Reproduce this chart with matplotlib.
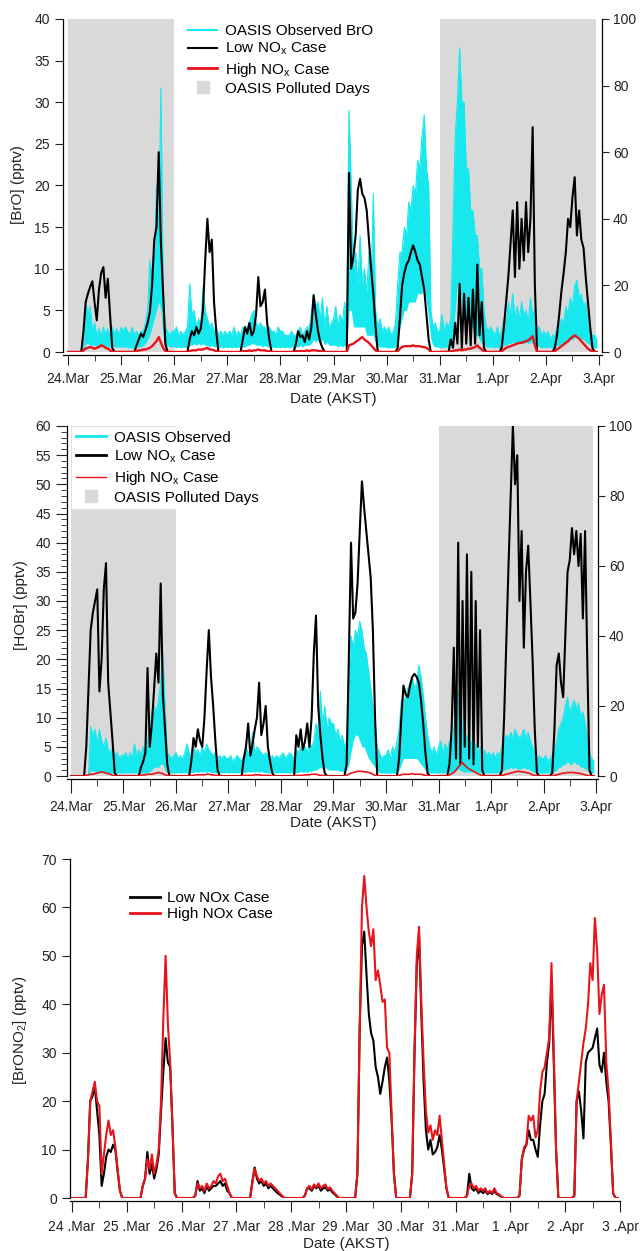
import numpy as np
import matplotlib
matplotlib.use("Agg")
import matplotlib.pyplot as plt
from matplotlib.lines import Line2D
from matplotlib.ticker import MultipleLocator

plt.rcParams["font.family"] = ["Liberation Sans", "DejaVu Sans"]
plt.rcParams["mathtext.default"] = "regular"
plt.rcParams["axes.linewidth"] = 0.9

CYAN = "#16e8ee"
GRAY = "#d9d9d9"
RED = "#e8141b"
TXT = "#222222"

# --------------------------------------------
# Data (hourly values, one row per day, 24.Mar .. 2.Apr)
# --------------------------------------------
day_labels = ["24.Mar", "25.Mar", "26.Mar", "27.Mar", "28.Mar", "29.Mar",
              "30.Mar", "31.Mar", "1.Apr", "2.Apr", "3.Apr"]
day_labels_sp = ["24 .Mar", "25 .Mar", "26 .Mar", "27 .Mar", "28 .Mar", "29 .Mar",
                 "30 .Mar", "31 .Mar", "1 .Apr", "2 .Apr", "3 .Apr"]
polluted_days = [(0.0, 2.0), (7.0, 9.94)]

# [BrO] panel
bro_low = [
    [0,0,0,0,0,0,0, 2.5,6.0,7.0,7.8,8.5,6.0,3.8,7.5,9.5,10.2,6.5,8.8,4.5,0.5, 0,0,0],
    [0,0,0,0,0,0,0, 0.8,1.5,2.2,1.8,2.6,3.5,4.8,8.0,13.5,15.0,24.0,13.0,7.0,1.0, 0,0,0],
    [0,0,0,0,0,0,0, 1.5,2.5,2.0,3.0,2.2,2.8,5.0,11.0,16.0,12.0,13.5,6.0,2.5,0, 0,0,0],
    [0,0,0,0,0,0,0, 1.5,3.0,2.2,3.5,2.0,2.5,4.5,9.0,5.5,6.0,7.5,3.5,1.5,0, 0,0,0],
    [0,0,0,0,0,0,0, 1.0,2.5,1.8,2.0,1.2,2.5,1.5,3.0,6.8,4.5,2.5,1.2,0.5,0, 0,0,0],
    [0,0,0,0,0,0,0, 21.5,10.0,11.5,14.0,19.5,20.8,19.0,18.5,17.0,13.5,10.0,7.0,3.0,0, 0,0,0],
    [0,0,0,0,0, 0.5,4.0,8.0,9.5,10.5,11.0,12.0,12.8,12.0,11.0,10.5,9.0,7.5,4.5,1.5,0, 0,0,0],
    [0,0,0,0,0, 1.5,0.5,3.5,1.0,8.2,0.5,7.0,1.0,6.5,0.8,7.5,1.0,10.5,2.0,6.0,0.5, 0,0,0],
    [0,0,0,0, 0.5,3.0,6.0,9.0,13.0,17.0,9.0,18.0,10.0,16.0,11.0,18.0,12.0,16.0,27.0,8.0,0, 0,0,0],
    [0,0,0,0, 0.5,2.0,4.5,7.3,9.5,12.0,16.0,15.0,18.6,21.0,14.0,17.0,13.5,12.5,9.0,6.0,3.0,0.5, 0,0],
]
bro_high = [
    [0,0,0,0,0,0,0, 0.2,0.4,0.5,0.6,0.5,0.4,0.5,0.6,0.8,0.7,0.5,0.4,0.2,0, 0,0,0],
    [0,0,0,0,0,0,0, 0.1,0.2,0.2,0.3,0.3,0.4,0.5,0.7,1.0,1.3,1.8,1.1,0.5,0.1, 0,0,0],
    [0,0,0,0,0,0,0, 0.1,0.2,0.2,0.2,0.3,0.3,0.3,0.4,0.5,0.3,0.3,0.2,0.1,0, 0,0,0],
    [0,0,0,0,0,0,0, 0.1,0.1,0.1,0.2,0.1,0.2,0.2,0.3,0.2,0.2,0.2,0.1,0.1,0, 0,0,0],
    [0,0,0,0,0,0,0, 0.1,0.1,0.1,0.1,0.1,0.2,0.1,0.2,0.2,0.2,0.1,0.1,0.1,0, 0,0,0],
    [0,0,0,0,0,0,0, 0.8,0.9,1.0,1.2,1.4,1.6,1.8,1.5,1.3,1.1,0.8,0.5,0.2,0, 0,0,0],
    [0,0,0,0,0, 0.1,0.4,0.6,0.7,0.7,0.7,0.7,0.8,0.7,0.7,0.7,0.6,0.6,0.5,0.3,0, 0,0,0],
    [0,0,0,0,0, 0.1,0.1,0.2,0.2,0.3,0.2,0.3,0.3,0.4,0.4,0.5,0.6,0.8,0.5,0.3,0.1, 0,0,0],
    [0,0,0,0, 0.1,0.3,0.5,0.6,0.7,0.8,0.9,1.0,1.1,1.1,1.2,1.3,1.4,1.6,1.9,0.8,0, 0,0,0],
    [0,0,0,0, 0.1,0.3,0.5,0.7,0.9,1.1,1.3,1.6,1.8,2.0,1.8,1.6,1.3,1.0,0.7,0.4,0.2,0.1, 0,0],
]
bro_obs_hi = [
    [0,0,0,0,0,0,0,0, 6.0,4.5,5.5,2.5,3.5,2.0,2.8,2.0,3.0,2.2,2.8,2.0,3.0,2.2,2.8,2.0],
    [3.0,2.5,3.0,2.5,2.0,3.0,2.0,2.5, 2.0,2.5,2.5,3.5,5.0,11.0,9.0,10.0, 20.0,14.0,31.7,8.0,3.0,2.5,2.0,2.5],
    [2.5,3.0,2.0,2.5,2.0,2.5,3.0,8.2, 4.5,5.0,3.0,4.0,3.0,7.8,5.0,4.0, 3.0,3.5,2.5,3.0,2.0,2.5,2.0,2.5],
    [2.0,2.5,2.0,3.0,2.0,2.5,2.0,3.0, 2.5,3.0,3.5,4.5,5.0,3.5,3.0,3.5, 3.0,3.0,2.5,3.0,2.5,2.5,2.0,3.0],
    [2.5,2.5,2.0,2.0,2.0,2.5,2.0,2.0, 2.5,3.0,2.0,2.5,3.0,3.0,4.5,7.0, 5.5,6.0,4.0,6.5,3.0,5.5,3.0,3.5],
    [4.0,5.5,3.0,4.5,3.5,6.0,4.0,29.0, 20.0,10.0,12.0,8.0,14.0,8.0,10.0,7.0, 12.0,8.0,19.0,5.0,3.0,4.0,2.5,3.0],
    [2.5,3.0,2.0,2.5,3.5,8.0,12.0,12.0, 15.0,14.0,18.0,17.0,20.0,19.0,23.0,22.0, 26.0,28.5,22.0,20.0,5.0,3.0,3.5,2.5],
    [2.5,4.5,2.5,3.5,3.0,4.0,15.0,26.0, 30.0,36.5,30.0,30.0,22.0,22.0,17.0,17.0, 14.0,14.0,10.0,10.0,5.0,3.0,2.5,3.0],
    [2.5,2.0,3.0,2.0,2.5,4.0,3.5,6.0, 4.5,7.0,4.0,5.5,4.0,6.0,4.5,5.0, 3.5,6.5,4.5,5.0,3.0,3.0,2.0,2.5],
    [2.0,2.5,1.5,2.0,2.0,3.0,3.0,4.0, 3.5,5.5,4.5,6.5,5.5,8.0,8.6,6.5, 7.0,5.5,6.0,3.5,2.5,2.0,2.0,1.5],
]
bro_obs_lo = [
    [0,0,0,0,0,0,0,0, 1.0,1.0,0.8,0.8,0.8,0.6,0.6,0.6,0.8,0.6,0.6,0.6,0.8,0.6,0.6,0.6],
    [0.6,0.6,0.6,0.5,0.5,0.5,0.5,0.6, 0.6,0.6,0.8,1.0,1.5,2.0,3.0,4.0, 5.0,6.0,5.0,2.0,1.0,0.8,0.6,0.6],
    [0.6,0.5,0.6,0.5,0.6,0.5,0.6,0.8, 0.8,1.0,0.8,1.0,0.8,1.0,0.8,0.8, 0.6,0.8,0.6,0.6,0.5,0.6,0.5,0.6],
    [0.5,0.6,0.5,0.6,0.5,0.6,0.5,0.6, 0.6,0.8,0.8,1.0,1.0,0.8,0.8,0.8, 0.6,0.8,0.6,0.6,0.5,0.6,0.5,0.6],
    [0.5,0.6,0.5,0.6,0.5,0.6,0.5,0.6, 0.6,0.8,0.6,0.8,0.8,0.8,1.0,1.5, 1.2,1.5,1.0,1.5,0.8,1.2,0.8,0.8],
    [0.8,0.8,0.6,0.8,0.6,0.8,1.0,5.0, 5.0,3.0,3.0,3.0,3.0,3.0,3.0,2.0, 2.0,2.0,2.0,1.0,0.8,0.6,0.6,0.6],
    [0.5,0.5,0.5,0.5,0.6,1.0,3.0,4.0, 5.0,5.0,6.0,6.0,6.0,6.0,7.0,7.0, 7.0,8.0,6.0,4.0,1.5,0.8,0.6,0.6],
    [0.5,0.6,0.5,0.6,0.6,0.8,2.0,5.0, 8.0,8.0,6.0,5.0,4.0,4.0,3.0,3.0, 2.0,2.0,1.5,1.0,0.8,0.6,0.6,0.6],
    [0.6,0.5,0.6,0.5,0.6,0.8,0.8,1.0, 1.0,1.2,1.0,1.2,1.0,1.2,1.0,1.2, 1.0,1.2,1.0,1.0,0.8,0.6,0.5,0.6],
    [0.5,0.6,0.5,0.5,0.6,0.8,0.8,1.0, 1.0,1.2,1.2,1.5,1.5,1.8,2.0,1.8, 1.5,1.5,1.2,1.0,0.8,0.6,0.5,0.5],
]

# [HOBr] panel
hobr_low = [
    [0,0,0,0,0,0,0, 5.0,15.0,25.0,28.0,30.0,32.0,14.5,20.0,32.0,36.5,16.0,11.0,6.0,0.5, 0,0,0],
    [0,0,0,0,0,0,0,0, 1.5,2.5,4.0,18.5,5.0,9.0,15.0,21.0,16.0,33.0,14.0,8.0,2.0, 0,0,0],
    [0,0,0,0,0,0,0, 2.5,6.5,5.0,8.0,6.0,5.0,10.0,18.0,25.0,17.0,12.0,6.0,1.0, 0,0,0,0],
    [0,0,0,0,0,0,0, 3.0,5.0,9.0,3.5,5.5,8.0,10.0,16.0,7.0,9.0,12.0,5.0,2.5,0.5, 0,0,0],
    [0,0,0,0,0,0,0, 7.0,5.0,8.0,4.5,6.0,9.0,5.0,10.0,21.0,27.5,12.0,7.0,3.0,0.5, 0,0,0],
    [0,0,0,0,0,0, 2.0,20.0,40.0,27.0,28.0,33.0,42.0,50.5,46.0,42.0,38.0,34.0,25.0,10.0,0, 0,0,0],
    [0,0,0,0,0,0, 3.0,10.0,15.5,14.0,13.5,15.5,17.0,17.5,17.0,16.0,13.0,9.0,4.0,0.5,0, 0,0,0],
    [0,0,0,0,0, 2.0,8.0,22.0,3.0,40.0,2.0,30.0,5.0,38.0,3.0,35.0,2.0,30.0,5.0,25.0,1.0, 0,0,0],
    [0,0,0,0,0, 1.0,10.0,23.0,36.0,48.0,60.0,50.0,55.0,30.0,42.0,22.0,35.0,39.5,30.0,20.0,8.0,0.5, 0,0],
    [0,0,0,0, 0.5,8.0,19.0,21.0,16.0,13.5,24.5,35.0,37.0,42.5,38.0,42.0,36.0,41.5,27.0,42.0,20.0,1.0, 0,0],
]
hobr_high = [
    [0,0,0,0,0,0,0, 0.1,0.2,0.3,0.3,0.4,0.5,0.6,0.7,0.6,0.5,0.4,0.3,0.1, 0,0,0,0],
    [0,0,0,0,0,0,0,0, 0.1,0.2,0.2,0.3,0.3,0.3,0.4,0.5,0.6,0.5,0.4,0.2,0.1, 0,0,0],
    [0,0,0,0,0,0,0, 0.1,0.1,0.2,0.2,0.2,0.2,0.2,0.3,0.3,0.2,0.2,0.1,0.1, 0,0,0,0],
    [0,0,0,0,0,0,0, 0.1,0.1,0.1,0.1,0.1,0.2,0.2,0.2,0.1,0.1,0.1,0.1,0.1, 0,0,0,0],
    [0,0,0,0,0,0,0, 0.1,0.1,0.1,0.1,0.2,0.2,0.2,0.3,0.3,0.3,0.2,0.1,0.1, 0,0,0,0],
    [0,0,0,0,0,0, 0.1,0.3,0.5,0.6,0.7,0.8,0.8,0.8,0.7,0.7,0.6,0.5,0.3,0.1, 0,0,0,0],
    [0,0,0,0,0,0, 0.1,0.2,0.3,0.3,0.3,0.3,0.4,0.3,0.3,0.3,0.3,0.2,0.1,0.1, 0,0,0,0],
    [0,0,0,0,0, 0.2,0.4,0.6,1.0,1.5,2.0,2.3,1.8,1.5,1.2,1.0,0.8,0.6,0.4,0.2,0.1, 0,0,0],
    [0,0,0,0,0, 0.1,0.2,0.3,0.4,0.5,0.6,0.7,0.8,0.8,0.7,0.7,0.6,0.5,0.4,0.2,0.1, 0,0,0],
    [0,0,0,0,0, 0.1,0.2,0.3,0.4,0.5,0.5,0.6,0.6,0.6,0.6,0.5,0.5,0.4,0.3,0.2,0.1, 0,0,0],
]
hobr_obs_hi = [
    [0,0,0,0,0,0,0,0,0, 8.5,7.0,8.0,5.5,8.0,6.0,5.0,6.5,4.5,4.0,5.0,3.5,4.0,3.0,3.5],
    [3.5,4.0,3.0,4.0,3.0,5.5,3.5,4.5, 3.5,5.0,4.5,6.0,8.0,11.0,12.0,11.0, 13.0,16.0,21.0,12.0,4.0,3.5,3.0,3.5],
    [4.0,3.0,3.5,3.0,4.0,5.5,4.0,3.5, 5.0,4.0,4.5,3.5,5.0,4.0,5.5,4.5, 4.0,3.5,4.0,3.0,3.5,3.0,3.5,3.0],
    [3.0,3.5,2.5,3.0,3.5,3.0,2.5,3.5, 5.0,4.0,3.5,7.5,4.0,5.0,4.5,4.0, 3.5,4.0,3.5,3.0,3.5,3.0,3.5,3.0],
    [3.5,4.0,3.0,3.5,4.0,3.5,3.0,4.5, 4.0,5.0,4.5,5.0,4.0,5.5,5.0,6.0, 9.0,8.0,14.5,8.5,12.0,8.0,10.0,9.0],
    [9.0,7.0,8.0,6.0,7.0,5.0,6.0,18.0, 24.0,22.0,25.0,24.0,26.5,25.0,22.0,21.0, 18.0,15.0,12.0,9.0,5.0,4.0,3.0,3.5],
    [3.5,4.5,3.0,5.0,4.0,6.0,8.0,13.0, 12.0,14.0,15.0,16.0,17.0,15.0,16.0,19.0, 17.0,14.0,10.0,7.0,5.0,4.0,5.0,3.5],
    [5.0,6.0,4.0,5.5,4.5,6.0,5.0,8.0, 10.0,14.5,13.0,8.0,6.0,7.0,5.0,6.0, 4.5,5.5,4.0,5.0,3.5,4.5,3.5,4.0],
    [3.5,4.0,3.0,4.0,3.5,5.0,6.0,7.0, 6.5,7.5,6.5,8.0,7.0,6.5,7.0,8.0, 6.5,7.5,6.0,5.0,4.0,3.0,3.5,3.0],
    [3.0,3.5,2.5,3.0,3.5,4.5,6.0,8.0, 9.0,10.0,12.0,13.5,11.0,12.0,13.0,11.5, 12.5,10.0,11.0,9.0,7.0,4.0,3.0,2.5],
]
hobr_obs_lo = [
    [0,0,0,0,0,0,0,0,0, 1.0,0.8,0.8,0.6,0.6,0.6,0.6,0.5,0.5,0.5,0.5,0.5,0.5,0.5,0.5],
    [0.5,0.6,0.5,0.6,0.5,0.6,0.5,0.6, 0.5,0.6,0.5,0.6,0.8,1.0,1.5,1.5, 1.5,2.0,2.0,1.0,0.5,0.6,0.5,0.6],
    [0.5,0.6,0.5,0.6,0.5,0.6,0.5,0.6, 0.6,0.8,0.6,0.8,0.6,0.8,0.6,0.8, 0.6,0.6,0.5,0.6,0.5,0.6,0.5,0.6],
    [0.5,0.6,0.5,0.6,0.5,0.6,0.5,0.6, 0.6,0.8,0.6,0.8,0.6,0.8,0.6,0.8, 0.6,0.6,0.5,0.6,0.5,0.6,0.5,0.6],
    [0.5,0.6,0.5,0.6,0.5,0.6,0.5,0.6, 0.6,0.8,0.6,0.8,0.6,0.8,0.8,1.0, 1.0,1.2,1.5,1.2,1.5,1.2,1.0,1.0],
    [1.0,1.0,1.0,0.8,0.8,0.8,1.0,2.0, 4.0,6.0,7.0,7.0,6.0,5.0,5.0,4.0, 3.0,2.5,2.0,1.5,1.0,0.5,0.5,0.5],
    [0.5,0.5,0.5,0.5,0.5,0.8,1.0,2.0, 3.0,3.0,3.0,3.0,3.0,3.0,3.0,2.5, 2.0,1.5,1.0,0.8,0.5,0.5,0.5,0.5],
    [0.5,0.6,0.5,0.6,0.5,0.6,0.6,0.8, 1.0,1.2,1.0,0.8,0.6,0.8,0.6,0.8, 0.6,0.8,0.6,0.6,0.5,0.6,0.5,0.6],
    [0.5,0.6,0.5,0.6,0.5,0.8,1.0,1.2, 1.2,1.5,1.2,1.5,1.2,1.2,1.2,1.5, 1.2,1.2,1.0,0.8,0.6,0.5,0.5,0.5],
    [0.5,0.6,0.5,0.6,0.5,0.8,1.0,1.5, 1.5,2.0,2.0,2.5,2.0,2.0,2.5,2.0, 2.0,1.5,1.5,1.2,1.0,0.6,0.5,0.5],
]

# [BrONO2] panel
brono2_low = [
    [0,0,0,0,0,0,0, 8.0,20.0,21.0,23.0,18.0,13.0,2.5,5.0,8.5,10.0,9.5,11.0,10.0,5.5,1.5, 0,0],
    [0,0,0,0,0,0,0, 2.5,4.0,9.5,5.0,7.0,4.0,6.0,9.0,18.0,26.0,33.0,28.0,27.0,15.0,1.0, 0,0],
    [0,0,0,0,0,0, 0.5,3.5,1.5,2.0,1.0,2.5,1.5,2.0,2.5,2.5,3.0,3.5,2.5,3.0,1.5,1.0, 0,0],
    [0,0,0,0,0,0,0, 3.5,6.3,4.0,3.0,3.5,2.5,3.0,2.0,2.5,2.0,1.5,1.0,0.7,0.3, 0,0,0],
    [0,0,0,0,0,0, 0.5,2.0,2.0,1.5,2.5,2.0,2.5,1.5,2.0,2.2,1.5,1.8,1.2,0.8,0.3, 0,0,0],
    [0,0,0,0,0, 5.0,35.0,52.0,55.0,46.0,38.0,34.0,32.5,27.0,25.0,21.5,24.0,27.0,29.0,24.0,16.0,5.0, 0,0],
    [0,0,0,0,0, 5.0,30.0,48.0,54.0,38.0,24.0,14.0,10.0,12.0,9.0,9.5,10.5,13.0,10.0,6.0,2.0, 0,0,0],
    [0,0,0,0,0, 0.5,5.0,2.0,1.5,2.0,1.0,1.5,1.0,1.5,0.8,1.2,0.8,1.5,0.8,0.6,0.3, 0,0,0],
    [0,0,0,0, 0.5,8.0,10.0,11.0,14.0,12.0,12.0,10.0,8.5,15.0,20.0,21.5,28.0,32.0,45.0,28.0,10.0, 0,0,0],
    [0,0,0,0, 0.5,20.0,22.0,18.0,12.3,28.0,30.0,30.5,31.0,33.0,35.0,27.5,26.0,30.0,24.0,20.0,11.0,1.0, 0,0],
]
brono2_high = [
    [0,0,0,0,0,0,0, 8.0,20.0,22.0,24.0,20.0,19.0,5.0,9.0,13.0,16.0,13.0,14.0,10.5,6.0,1.5, 0,0],
    [0,0,0,0,0,0,0, 2.5,4.0,8.0,6.0,9.0,5.0,7.0,10.0,20.0,37.0,50.0,36.0,28.0,15.0,1.0, 0,0],
    [0,0,0,0,0,0, 0.5,3.0,2.0,2.5,1.5,3.0,2.0,2.5,3.5,3.0,4.5,5.0,3.5,4.0,2.5,1.0, 0,0],
    [0,0,0,0,0,0,0, 3.0,6.0,4.5,3.5,4.0,3.0,3.5,2.5,3.0,2.5,2.0,1.5,1.0,0.5, 0,0,0],
    [0,0,0,0,0,0, 0.5,2.0,2.5,1.8,2.8,2.2,3.0,2.0,2.5,2.8,1.8,2.2,1.5,1.0,0.5, 0,0,0],
    [0,0,0,0,0, 5.0,35.0,60.0,66.5,60.0,55.0,52.0,55.5,45.0,47.0,44.0,40.5,41.0,31.0,30.0,17.0,5.0, 0,0],
    [0,0,0,0,0, 5.0,30.0,50.0,56.0,40.0,28.0,18.0,13.5,15.0,12.0,14.0,13.0,17.0,12.0,7.0,2.0, 0,0,0],
    [0,0,0,0,0, 0.5,2.5,3.0,2.0,2.5,1.5,2.0,1.5,2.0,1.0,1.5,1.0,2.0,1.0,0.8,0.3, 0,0,0],
    [0,0,0,0, 0.5,8.0,10.5,11.0,17.0,16.0,17.0,12.5,14.0,22.0,26.0,27.0,30.0,33.0,48.5,30.0,10.0, 0,0,0],
    [0,0,0,0, 0.5,20.0,24.0,28.0,32.0,35.0,40.0,48.5,45.0,57.8,51.0,38.0,42.0,44.0,28.0,22.0,12.0,1.0, 0,0],
]


# --------------------------------------------
# Helpers
# --------------------------------------------

def flat(rows):
    for r in rows:
        assert len(r) == 24, len(r)
    return np.concatenate([np.asarray(r, dtype=float) for r in rows])


def px_axes(fig, left, right, top, bottom):
    W, H = fig.get_size_inches() * fig.dpi
    return fig.add_axes([left / W, 1 - bottom / H, (right - left) / W, (bottom - top) / H])


def style_time_axis(ax, labels, major_len=7, minor_len=4):
    ax.set_xticks(np.arange(len(labels)))
    ax.set_xticklabels(labels)
    ax.xaxis.set_minor_locator(MultipleLocator(0.5))
    ax.tick_params(axis="x", which="major", direction="out", length=major_len, pad=5,
                   labelsize=10, colors=TXT)
    ax.tick_params(axis="x", which="minor", direction="out", length=minor_len, colors=TXT)
    ax.tick_params(axis="y", which="major", direction="out", length=6, labelsize=10, colors=TXT)
    ax.spines["top"].set_visible(False)
    ax.spines["right"].set_visible(False)
    ax.spines["bottom"].set_position(("outward", 2.5))


def add_right_axis(ax):
    rax = ax.twinx()
    rax.set_ylim(0, 100)
    rax.set_yticks(np.arange(0, 101, 20))
    for s in ["top", "left", "bottom"]:
        rax.spines[s].set_visible(False)
    rax.tick_params(axis="y", direction="out", length=5, labelsize=10, colors=TXT, pad=3)
    return rax


def fig_label(fig, x, y, text, rotation=0):
    W, H = fig.get_size_inches() * fig.dpi
    fig.text(x / W, 1 - y / H, text, ha="center", va="center", rotation=rotation,
             fontsize=11, color=TXT)


hours = np.arange(240) / 24.0

fig = plt.figure(figsize=(6.42, 12.51), dpi=100)

# --------------------------------------------
# Panel 1: BrO
# --------------------------------------------
ax1 = px_axes(fig, 63, 602, 19, 352)
for a, b in polluted_days:
    ax1.axvspan(a, b, ymin=0, ymax=1, color=GRAY, lw=0, zorder=0)
ax1.fill_between(hours, flat(bro_obs_lo), flat(bro_obs_hi), color=CYAN, lw=0, zorder=1)
ax1.plot(hours, flat(bro_obs_hi), color=CYAN, lw=0.8, zorder=1)
ax1.plot(hours, flat(bro_low), color="black", lw=1.5, zorder=2)
ax1.plot(hours, flat(bro_high), color=RED, lw=1.7, zorder=3)
ax1.set_xlim(-0.094, 10.056)
ax1.set_ylim(0, 40)
ax1.set_yticks(np.arange(0, 41, 5))
style_time_axis(ax1, day_labels)
add_right_axis(ax1)
h1 = [Line2D([], [], color=CYAN, lw=1.5), Line2D([], [], color="black", lw=1.5),
      Line2D([], [], color=RED, lw=2.0),
      Line2D([], [], marker="s", ls="none", color=GRAY, markersize=9)]
l1 = ["OASIS Observed BrO", "Low NO$_x$ Case", "High NO$_x$ Case", "OASIS Polluted Days"]
ax1.legend(h1, l1, loc="upper left", bbox_to_anchor=((188 - 63) / 539, (352 - 24) / 333),
           frameon=False, fontsize=11, handlelength=1.9, handletextpad=0.5,
           labelspacing=0.2, borderpad=0, borderaxespad=0)
fig_label(fig, 18, 185, "[BrO] (pptv)", rotation=90)
fig_label(fig, 333, 399, "Date (AKST)")

# --------------------------------------------
# Panel 2: HOBr
# --------------------------------------------
ax2 = px_axes(fig, 67, 598, 426, 776)
for a, b in polluted_days:
    ax2.axvspan(a, b, color=GRAY, lw=0, zorder=0)
ax2.fill_between(hours, flat(hobr_obs_lo), flat(hobr_obs_hi), color=CYAN, lw=0, zorder=1)
ax2.plot(hours, flat(hobr_obs_hi), color=CYAN, lw=0.8, zorder=1)
ax2.plot(hours, flat(hobr_low), color="black", lw=1.5, zorder=2)
ax2.plot(hours, flat(hobr_high), color=RED, lw=1.2, zorder=3)
ax2.set_xlim(-0.076, 10.038)
ax2.set_ylim(0, 60)
ax2.set_yticks(np.arange(0, 61, 5))
ax2.yaxis.set_minor_locator(MultipleLocator(1))
style_time_axis(ax2, day_labels, major_len=10, minor_len=5)
ax2.tick_params(axis="y", which="major", length=8)
ax2.tick_params(axis="y", which="minor", direction="out", length=4, colors=TXT)
add_right_axis(ax2)
h2 = [Line2D([], [], color=CYAN, lw=2.0), Line2D([], [], color="black", lw=2.0),
      Line2D([], [], color=RED, lw=1.0),
      Line2D([], [], marker="s", ls="none", color=GRAY, markersize=9)]
l2 = ["OASIS Observed", "Low NO$_x$ Case", "High NO$_x$ Case", "OASIS Polluted Days"]
leg2 = ax2.legend(h2, l2, loc="upper left", bbox_to_anchor=((72 - 67) / 531, (776 - 427) / 350),
                  frameon=True, fancybox=False, fontsize=11, handlelength=2.0,
                  handletextpad=0.5, labelspacing=0.25, borderpad=0.25, borderaxespad=0)
leg2.get_frame().set_facecolor("white")
leg2.get_frame().set_edgecolor("white")
leg2.get_frame().set_alpha(1)
fig_label(fig, 21, 605, "[HOBr] (pptv)", rotation=90)
fig_label(fig, 333, 823, "Date (AKST)")

# --------------------------------------------
# Panel 3: BrONO2
# --------------------------------------------
ax3 = px_axes(fig, 70, 620, 859, 1198)
ax3.plot(hours, flat(brono2_low), color="black", lw=1.5, zorder=2)
ax3.plot(hours, flat(brono2_high), color=RED, lw=1.5, zorder=3)
ax3.set_xlim(-0.036, 10.0)
ax3.set_ylim(0, 70)
ax3.set_yticks(np.arange(0, 71, 10))
style_time_axis(ax3, day_labels_sp, major_len=8, minor_len=5)
h3 = [Line2D([], [], color="black", lw=2.0), Line2D([], [], color=RED, lw=2.0)]
l3 = ["Low NOx Case", "High NOx Case"]
ax3.legend(h3, l3, loc="upper left", bbox_to_anchor=((130 - 70) / 550, (1198 - 891) / 339),
           frameon=False, fontsize=11, handlelength=1.95, handletextpad=0.5,
           labelspacing=0.15, borderpad=0, borderaxespad=0)
fig_label(fig, 20, 1030, "[BrONO$_2$] (pptv)", rotation=90)
fig_label(fig, 346, 1244, "Date (AKST)")

fig.savefig("out.png", dpi=100)
